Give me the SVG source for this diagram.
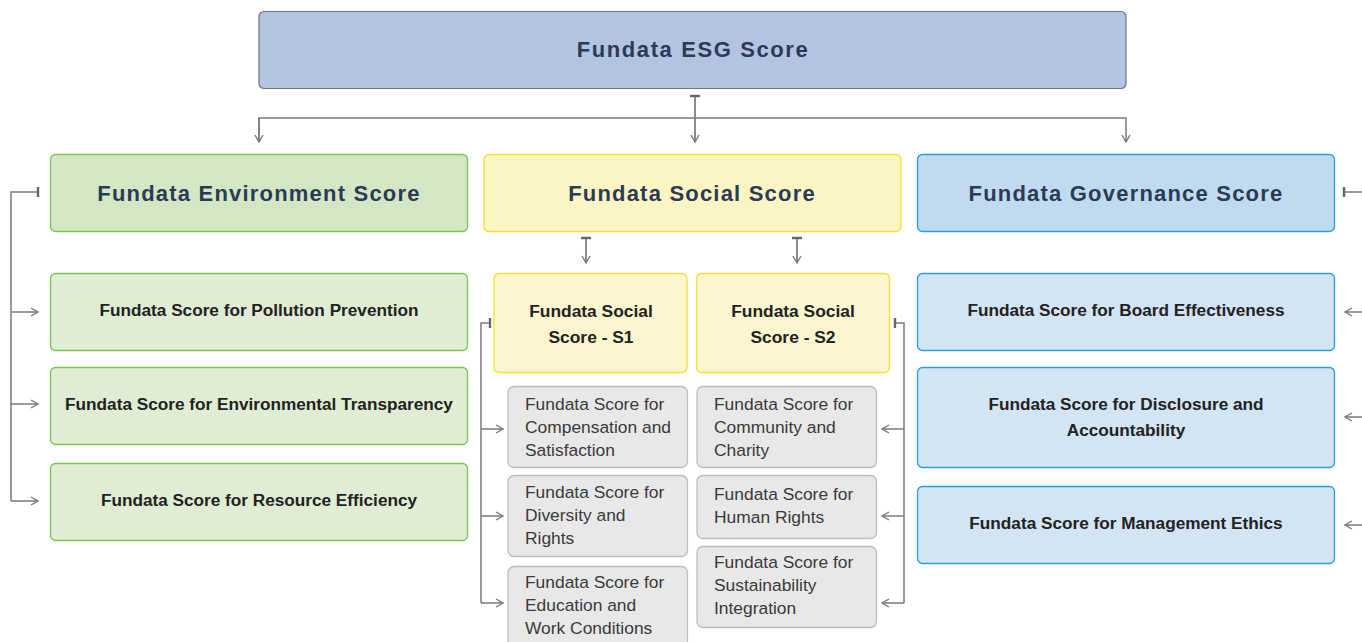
<svg xmlns="http://www.w3.org/2000/svg" width="1362" height="642" viewBox="0 0 1362 642">
  <style>
    text { font-family: "Liberation Sans", Arial, Helvetica, sans-serif; }
    .root rect { fill: #b3c3e2; stroke: #6f7582; stroke-width: 1.2; }
    .root text { font-size: 22px; font-weight: bold; fill: #2b3a55; text-anchor: middle; letter-spacing: 1.6px; }
    .pillar text { font-size: 22px; font-weight: bold; fill: #2b3a55; text-anchor: middle; letter-spacing: 1.2px; }
    .env-main rect { fill: #d3e7c4; stroke: #78c552; stroke-width: 1.3; }
    .soc-main rect { fill: #fbf4c3; stroke: #f5df2c; stroke-width: 1.3; }
    .gov-main rect { fill: #c0daf0; stroke: #2a9de0; stroke-width: 1.3; }
    .leaf text { font-size: 17.2px; font-weight: bold; fill: #222222; text-anchor: middle; }
    .env-leaf rect { fill: #e0edd4; stroke: #78c552; stroke-width: 1.3; }
    .gov-leaf rect { fill: #d3e4f4; stroke: #2a9de0; stroke-width: 1.3; }
    .soc-sub rect { fill: #fbf6d0; stroke: #f5df2c; stroke-width: 1.3; }
    .soc-sub text { font-size: 17.4px; font-weight: bold; fill: #222222; text-anchor: middle; }
    .item rect { fill: #e8e8e8; stroke: #bdbdbd; stroke-width: 1.3; }
    .item text { font-size: 17.4px; fill: #3a3a3a; }
    .conn path { fill: none; stroke: #7a7a7a; stroke-width: 1.5; }
    .conn path.dark { stroke: #666666; }
  </style>
  <defs>
    <marker id="arrow" viewBox="0 0 10 10" refX="9" refY="5" markerWidth="10" markerHeight="10" markerUnits="userSpaceOnUse" orient="auto">
      <path d="M2,1 L9,5 L2,9" fill="none" stroke="#7a7a7a" stroke-width="1.4"/>
    </marker>
    <marker id="tee" viewBox="0 0 10 12" refX="5" refY="6" markerWidth="10" markerHeight="12" markerUnits="userSpaceOnUse" orient="auto">
      <path d="M5,1 L5,11" fill="none" stroke="#666666" stroke-width="2.4"/>
    </marker>
  </defs>

  <!-- connectors -->
  <g id="connectors" class="conn">
    <!-- root to pillars -->
    <path class="dark" d="M695,96 V142" marker-start="url(#tee)" marker-end="url(#arrow)"/>
    <path d="M259,142 V118 H1126 V142" marker-end="url(#arrow)"/>
    <path d="M259,118 V142" marker-end="url(#arrow)"/>
    <!-- environment bracket -->
    <path d="M38,192 H11 V501" marker-start="url(#tee)"/>
    <path d="M11,312 H38" marker-end="url(#arrow)"/>
    <path d="M11,404 H38" marker-end="url(#arrow)"/>
    <path d="M11,501 H38" marker-end="url(#arrow)"/>
    <!-- governance bracket -->
    <path d="M1344,192 H1362" marker-start="url(#tee)"/>
    <path d="M1362,312 H1345" marker-end="url(#arrow)"/>
    <path d="M1362,417 H1345" marker-end="url(#arrow)"/>
    <path d="M1362,525 H1345" marker-end="url(#arrow)"/>
    <!-- social to S1 / S2 -->
    <path class="dark" d="M586,238 V263" marker-start="url(#tee)" marker-end="url(#arrow)"/>
    <path class="dark" d="M797,238 V263" marker-start="url(#tee)" marker-end="url(#arrow)"/>
    <!-- S1 bracket -->
    <path d="M490,323 H481 V603" marker-start="url(#tee)"/>
    <path d="M481,429 H503" marker-end="url(#arrow)"/>
    <path d="M481,516 H503" marker-end="url(#arrow)"/>
    <path d="M481,603 H503" marker-end="url(#arrow)"/>
    <!-- S2 bracket -->
    <path d="M895,323 H904 V603" marker-start="url(#tee)"/>
    <path d="M904,429 H882" marker-end="url(#arrow)"/>
    <path d="M904,516 H882" marker-end="url(#arrow)"/>
    <path d="M904,603 H882" marker-end="url(#arrow)"/>
  </g>

  <!-- root -->
  <g id="esg-score" class="root">
    <rect x="259" y="11.5" width="867" height="77" rx="5"/>
    <text x="693" y="57">Fundata ESG Score</text>
  </g>

  <!-- pillars -->
  <g id="environment-score" class="pillar env-main">
    <rect x="50.5" y="154.5" width="417" height="77" rx="5"/>
    <text x="259" y="201">Fundata Environment Score</text>
  </g>
  <g id="social-score" class="pillar soc-main">
    <rect x="484" y="154.5" width="417" height="77" rx="5"/>
    <text x="692" y="201">Fundata Social Score</text>
  </g>
  <g id="governance-score" class="pillar gov-main">
    <rect x="917.5" y="154.5" width="417" height="77" rx="5"/>
    <text x="1126" y="201">Fundata Governance Score</text>
  </g>

  <!-- environment leaves -->
  <g id="pollution-prevention" class="leaf env-leaf">
    <rect x="50.5" y="273.5" width="417" height="77" rx="5"/>
    <text x="259" y="316">Fundata Score for Pollution Prevention</text>
  </g>
  <g id="environmental-transparency" class="leaf env-leaf">
    <rect x="50.5" y="367.5" width="417" height="77" rx="5"/>
    <text x="259" y="410">Fundata Score for Environmental Transparency</text>
  </g>
  <g id="resource-efficiency" class="leaf env-leaf">
    <rect x="50.5" y="463.5" width="417" height="77" rx="5"/>
    <text x="259" y="506">Fundata Score for Resource Efficiency</text>
  </g>

  <!-- governance leaves -->
  <g id="board-effectiveness" class="leaf gov-leaf">
    <rect x="917.5" y="273.5" width="417" height="77" rx="5"/>
    <text x="1126" y="316">Fundata Score for Board Effectiveness</text>
  </g>
  <g id="disclosure-accountability" class="leaf gov-leaf">
    <rect x="917.5" y="367.5" width="417" height="100" rx="5"/>
    <text x="1126" y="410">Fundata Score for Disclosure and</text>
    <text x="1126" y="436">Accountability</text>
  </g>
  <g id="management-ethics" class="leaf gov-leaf">
    <rect x="917.5" y="486.5" width="417" height="77" rx="5"/>
    <text x="1126" y="529">Fundata Score for Management Ethics</text>
  </g>

  <!-- social sub-scores -->
  <g id="social-s1" class="soc-sub">
    <rect x="494" y="273.5" width="193" height="99" rx="5"/>
    <text x="591" y="317">Fundata Social</text>
    <text x="591" y="343">Score - S1</text>
  </g>
  <g id="social-s2" class="soc-sub">
    <rect x="696.5" y="273.5" width="193" height="99" rx="5"/>
    <text x="793" y="317">Fundata Social</text>
    <text x="793" y="343">Score - S2</text>
  </g>

  <!-- S1 items -->
  <g id="compensation-satisfaction" class="item">
    <rect x="508" y="386.5" width="179.5" height="81" rx="6"/>
    <text x="525" y="410">Fundata Score for</text>
    <text x="525" y="433">Compensation and</text>
    <text x="525" y="456">Satisfaction</text>
  </g>
  <g id="diversity-rights" class="item">
    <rect x="508" y="475.5" width="179.5" height="81" rx="6"/>
    <text x="525" y="498">Fundata Score for</text>
    <text x="525" y="521">Diversity and</text>
    <text x="525" y="544">Rights</text>
  </g>
  <g id="education-work" class="item">
    <rect x="508" y="566.5" width="179.5" height="81" rx="6"/>
    <text x="525" y="588">Fundata Score for</text>
    <text x="525" y="611">Education and</text>
    <text x="525" y="634">Work Conditions</text>
  </g>

  <!-- S2 items -->
  <g id="community-charity" class="item">
    <rect x="697" y="386.5" width="179.5" height="81" rx="6"/>
    <text x="714" y="410">Fundata Score for</text>
    <text x="714" y="433">Community and</text>
    <text x="714" y="456">Charity</text>
  </g>
  <g id="human-rights" class="item">
    <rect x="697" y="475.5" width="179.5" height="63" rx="6"/>
    <text x="714" y="500">Fundata Score for</text>
    <text x="714" y="523">Human Rights</text>
  </g>
  <g id="sustainability-integration" class="item">
    <rect x="697" y="546.5" width="179.5" height="81" rx="6"/>
    <text x="714" y="568">Fundata Score for</text>
    <text x="714" y="591">Sustainability</text>
    <text x="714" y="614">Integration</text>
  </g>
</svg>
